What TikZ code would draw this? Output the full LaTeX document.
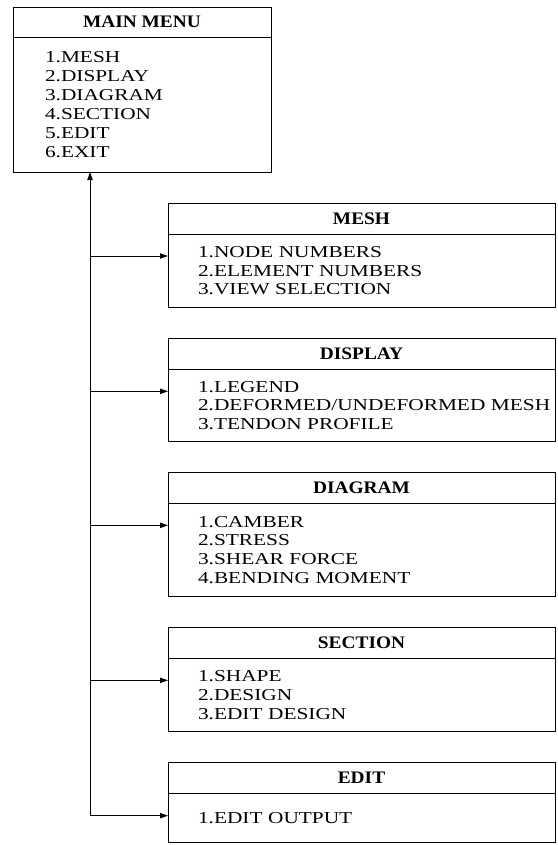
\documentclass[tikz,border=0pt]{standalone}
\usepackage{fontspec}
\setmainfont{Liberation Serif}
\newfontfamily\listfont{Liberation Serif}[FakeStretch=1.28]
\newfontfamily\headfont{Liberation Serif}[FakeStretch=1.1]
\usetikzlibrary{arrows.meta, positioning}
\tikzset{
  flowarrow/.style={-{Triangle[length=6pt, width=4pt]}, line width=0.7pt},
  flowarrow_both/.style={{Triangle[length=6pt, width=4pt]}-{Triangle[length=6pt, width=4pt]}, line width=0.7pt}
}

\begin{document}
\begin{tikzpicture}[x=0.75pt, y=-0.75pt, line width=0.7pt,
    headbox/.style={draw, outer sep=0pt, inner sep=0pt, minimum width=290.25pt, minimum height=23.25pt, font=\headfont\bfseries\fontsize{13.2}{15}\selectfont},
    listbox/.style={draw, outer sep=0pt, inner ysep=0pt, inner xsep=22.5pt, text width=245.25pt, minimum height=55pt, align=left, font=\listfont\fontsize{12.5}{14}\selectfont},
    node distance=23.25pt]

    \useasboundingbox (0,0) rectangle (557,845);

    % Main menu
    \node[headbox, anchor=north west, minimum width=193.5pt, minimum height=22.5pt] (main) at (13,7) {MAIN MENU};
    \node[listbox, below=0pt of main, inner xsep=24pt, text width=145.5pt, minimum height=101.25pt, font=\listfont\fontsize{12.5}{14.25}\selectfont] (mainlist)
      {1.MESH\\2.DISPLAY\\3.DIAGRAM\\4.SECTION\\5.EDIT\\6.EXIT};

    % Sub menus
    \node[headbox, anchor=north west] (mesh) at (168,203) {MESH};
    \node[listbox, below=0pt of mesh] (meshlist)
      {1.NODE NUMBERS\\2.ELEMENT NUMBERS\\3.VIEW SELECTION};

    \node[headbox, below=of meshlist] (display) {DISPLAY};
    \node[listbox, below=0pt of display, minimum height=54pt] (displaylist)
      {1.LEGEND\\\mbox{2.DEFORMED/UNDEFORMED MESH}\\3.TENDON PROFILE};

    \node[headbox, below=of displaylist] (diagram) {DIAGRAM};
    \node[listbox, below=0pt of diagram, minimum height=69.75pt] (diagramlist)
      {1.CAMBER\\2.STRESS\\3.SHEAR FORCE\\4.BENDING MOMENT};

    \node[headbox, below=of diagramlist] (section) {SECTION};
    \node[listbox, below=0pt of section] (sectionlist)
      {1.SHAPE\\2.DESIGN\\3.EDIT DESIGN};

    \node[headbox, below=of sectionlist] (edit) {EDIT};
    \node[listbox, below=0pt of edit, minimum height=36.75pt] (editlist)
      {1.EDIT OUTPUT};

    % Arrow ends
    \coordinate (trunktop) at (90,0 |- mainlist.south);
    \coordinate (meshin) at ([yshift=-16.5pt]meshlist.north west);
    \coordinate (displayin) at ([yshift=-16.5pt]displaylist.north west);
    \coordinate (diagramin) at ([yshift=-16.5pt]diagramlist.north west);
    \coordinate (sectionin) at ([yshift=-16.5pt]sectionlist.north west);
    \coordinate (editin) at ([yshift=-16.5pt]editlist.north west);

    % Trunk and branches
    \draw[flowarrow_both] (trunktop) |- (editin);
    \draw[flowarrow] (trunktop |- meshin) -- (meshin);
    \draw[flowarrow] (trunktop |- displayin) -- (displayin);
    \draw[flowarrow] (trunktop |- diagramin) -- (diagramin);
    \draw[flowarrow] (trunktop |- sectionin) -- (sectionin);

\end{tikzpicture}
\end{document}
